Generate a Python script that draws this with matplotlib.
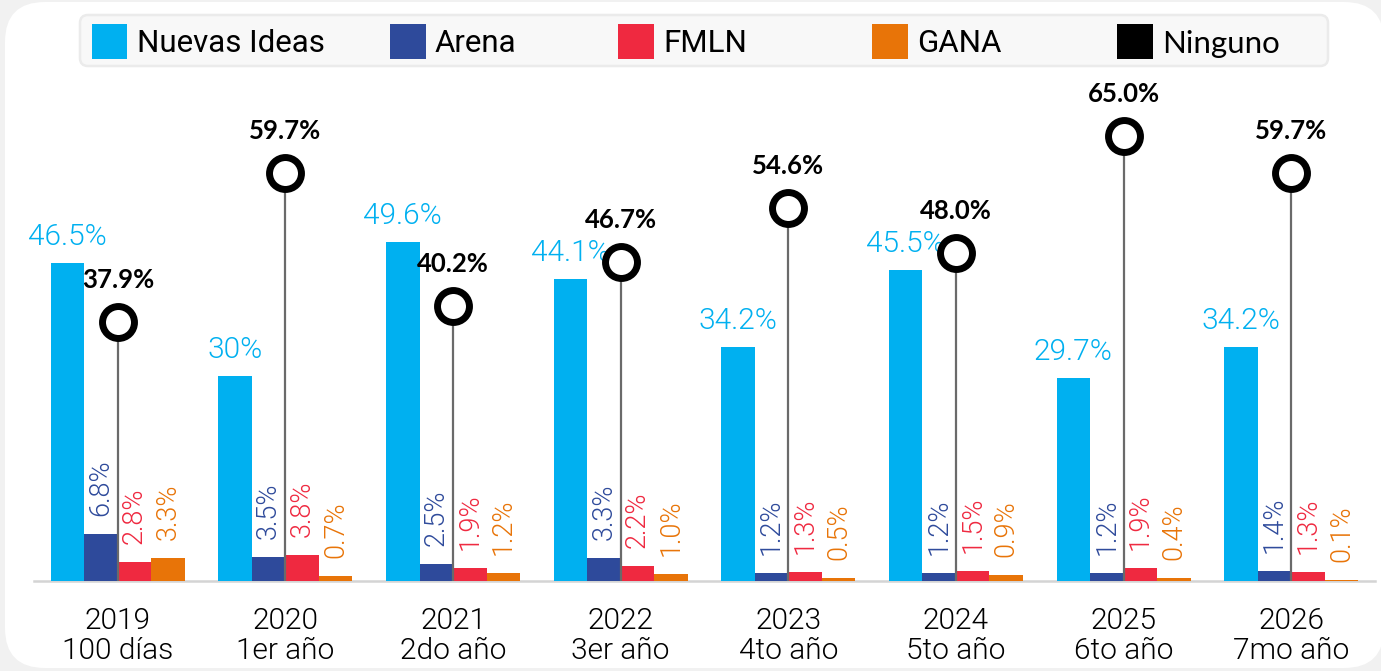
import matplotlib
matplotlib.use("Agg")
import matplotlib.pyplot as plt
from matplotlib.patches import FancyBboxPatch, Rectangle
import numpy as np

# ---- data ----
groups = ["2019\n100 días", "2020\n1er año", "2021\n2do año", "2022\n3er año",
          "2023\n4to año", "2024\n5to año", "2025\n6to año", "2026\n7mo año"]
nuevas_ideas = [46.5, 30.0, 49.6, 44.1, 34.2, 45.5, 29.7, 34.2]
nuevas_ideas_labels = ["46.5%", "30%", "49.6%", "44.1%", "34.2%", "45.5%", "29.7%", "34.2%"]
arena = [6.8, 3.5, 2.5, 3.3, 1.2, 1.2, 1.2, 1.4]
fmln = [2.8, 3.8, 1.9, 2.2, 1.3, 1.5, 1.9, 1.3]
gana = [3.3, 0.7, 1.2, 1.0, 0.5, 0.9, 0.4, 0.1]
ninguno = [37.9, 59.7, 40.2, 46.7, 54.6, 48.0, 65.0, 59.7]
legend_names = ["Nuevas Ideas", "Arena", "FMLN", "GANA", "Ninguno"]

# ---- style ----
C_NI = "#00b0f0"
C_AR = "#2e4a9b"
C_FM = "#ef2940"
C_GA = "#e87408"
C_NG = "#000000"
FONT = ["Roboto", "DejaVu Sans"]
FONT_B = ["Lato", "DejaVu Sans"]
LIGHT = 300

W, H, DPI = 13.81, 6.71, 100
fig = plt.figure(figsize=(W, H), dpi=DPI)
fig.patch.set_facecolor("#f1f1f1")

# white card
card = FancyBboxPatch((0.05, 0.03), 13.79, 6.66,
                      boxstyle="round,pad=0,rounding_size=0.4",
                      transform=fig.dpi_scale_trans, facecolor="white",
                      edgecolor="none", zorder=-10)
fig.patches.append(card)

# axes
ax_left, ax_right = 34, 1375
ax_base, ax_top = 581, 80
ax = fig.add_axes([ax_left / 1381, (671 - ax_base) / 671,
                   (ax_right - ax_left) / 1381, (ax_base - ax_top) / 671])
ax.set_facecolor("none")
ax.set_zorder(2)
ymax = (ax_base - ax_top) / 6.84
ax.set_xlim(-0.5, 7.5)
ax.set_ylim(0, ymax)

x = np.arange(len(groups))
bw = 0.2
series = [(nuevas_ideas, C_NI, -1.5), (arena, C_AR, -0.5),
          (fmln, C_FM, 0.5), (gana, C_GA, 1.5)]
for vals, col, off in series:
    ax.bar(x + off * bw, vals, width=bw, color=col, zorder=2, linewidth=0)

# Nuevas Ideas labels
for xi, v, lab in zip(x, nuevas_ideas, nuevas_ideas_labels):
    ax.annotate(lab, (xi - 1.5 * bw, v), xytext=(0, 13), textcoords="offset points",
                ha="center", va="baseline", fontsize=21.5, color=C_NI,
                family=FONT, fontweight=LIGHT, zorder=3)

# small rotated labels
for vals, col, off in series[1:]:
    for xi, v in zip(x, vals):
        ax.annotate(f"{v:.1f}%", (xi + off * bw, v), xytext=(0, 13),
                    textcoords="offset points", ha="center", va="bottom",
                    rotation=90, fontsize=19.5, color=col, family=FONT,
                    fontweight=LIGHT, zorder=3)

# Ninguno lollipops
ax.vlines(x, 0, ninguno, color="#6a6a6a", linewidth=1.6, zorder=4)
ax.plot(x, ninguno, linestyle="none", marker="o", markersize=23,
        markerfacecolor="white", markeredgecolor=C_NG, markeredgewidth=5,
        zorder=5, clip_on=False)
for xi, v in zip(x, ninguno):
    ax.annotate(f"{v:.1f}%", (xi, v), xytext=(0, 24.5), textcoords="offset points",
                ha="center", va="baseline", fontsize=18.5, fontweight="bold",
                color=C_NG, family=FONT_B, zorder=6)

# axes cosmetics
for s in ["top", "right", "left"]:
    ax.spines[s].set_visible(False)
ax.spines["bottom"].set_color("#d4d4d4")
ax.spines["bottom"].set_linewidth(1.8)
ax.spines["bottom"].set_zorder(1)
ax.set_yticks([])
ax.set_xticks(x)
ax.set_xticklabels(groups, fontsize=21.5, family=FONT, fontweight=LIGHT,
                   linespacing=1.08)
ax.tick_params(axis="x", length=0, pad=19, colors="black")

# legend (manual)
leg_box = FancyBboxPatch((0.80, 6.05), 12.48, 0.51,
                         boxstyle="round,pad=0,rounding_size=0.08",
                         transform=fig.dpi_scale_trans, facecolor="#f8f8f8",
                         edgecolor="#ebebeb", linewidth=1.8, zorder=1)
fig.patches.append(leg_box)
leg_x = [0.92, 3.90, 6.18, 8.72, 11.17]
leg_cols = [C_NI, C_AR, C_FM, C_GA, C_NG]
for lx, col, name in zip(leg_x, leg_cols, legend_names):
    fig.patches.append(Rectangle((lx, 6.12), 0.355, 0.35, transform=fig.dpi_scale_trans,
                                 facecolor=col, edgecolor="none", zorder=2))
    fam = FONT_B if name == "Ninguno" else FONT
    fig.text(lx + 0.45, 6.30, name, transform=fig.dpi_scale_trans,
             ha="left", va="center_baseline", fontsize=22.5, family=fam,
             fontweight="normal", color="black", zorder=3)

fig.savefig("out.png", dpi=DPI, facecolor=fig.get_facecolor())
